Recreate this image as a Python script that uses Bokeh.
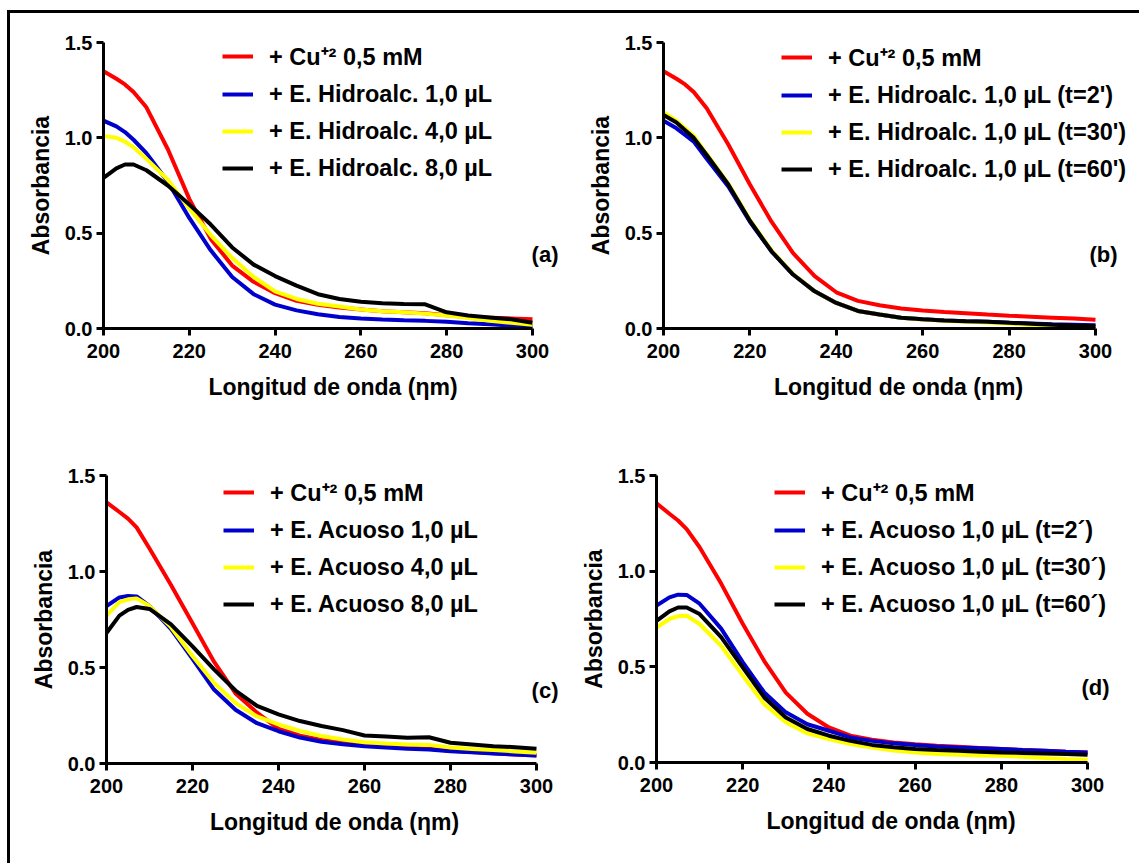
from bokeh.plotting import figure
from bokeh.layouts import column, row
from bokeh.models import Legend, LegendItem, Label, FixedTicker, PrintfTickFormatter, Range1d
from bokeh.embed import file_html
from bokeh.resources import INLINE

# ---------------- data ----------------
wavelength = [200, 203, 205, 207, 210, 215, 220, 225, 230, 235, 240, 245, 250,
              255, 260, 265, 270, 275, 280, 285, 290, 295, 300]

# panel (a)
a_cu = [1.35, 1.31, 1.28, 1.24, 1.16, 0.94, 0.68, 0.47, 0.33, 0.245, 0.185, 0.145, 0.125,
        0.11, 0.10, 0.09, 0.085, 0.08, 0.07, 0.06, 0.057, 0.053, 0.048]
a_h1 = [1.09, 1.06, 1.03, 0.99, 0.92, 0.77, 0.58, 0.41, 0.27, 0.18, 0.125, 0.095, 0.075,
        0.06, 0.052, 0.047, 0.043, 0.04, 0.035, 0.028, 0.022, 0.015, 0.01]
a_h4 = [1.01, 1.0, 0.98, 0.95, 0.89, 0.78, 0.63, 0.49, 0.37, 0.27, 0.195, 0.155, 0.13,
        0.115, 0.10, 0.09, 0.085, 0.078, 0.068, 0.055, 0.04, 0.03, 0.02]
a_h8 = [0.79, 0.84, 0.86, 0.86, 0.83, 0.75, 0.65, 0.545, 0.425, 0.335, 0.275, 0.225, 0.18,
        0.155, 0.14, 0.132, 0.128, 0.127, 0.085, 0.068, 0.058, 0.048, 0.03]

# panel (b)
b_cu = [1.35, 1.31, 1.28, 1.24, 1.155, 0.965, 0.755, 0.56, 0.395, 0.275, 0.19, 0.145, 0.122,
        0.105, 0.095, 0.087, 0.08, 0.073, 0.067, 0.062, 0.057, 0.052, 0.046]
b_t2 = [1.09, 1.05, 1.015, 0.98, 0.89, 0.745, 0.56, 0.405, 0.283, 0.195, 0.134, 0.092, 0.073,
        0.056, 0.048, 0.042, 0.038, 0.035, 0.03, 0.026, 0.022, 0.02, 0.017]
b_t30 = [1.135, 1.09, 1.05, 1.01, 0.915, 0.76, 0.57, 0.41, 0.285, 0.195, 0.134, 0.092, 0.073,
         0.056, 0.047, 0.04, 0.036, 0.032, 0.026, 0.018, 0.012, 0.006, 0.0]
b_t60 = [1.12, 1.08, 1.04, 1.0, 0.91, 0.755, 0.565, 0.405, 0.283, 0.195, 0.134, 0.092, 0.073,
         0.056, 0.048, 0.042, 0.038, 0.035, 0.03, 0.025, 0.02, 0.016, 0.012]

# panel (c)
c_cu = [1.36, 1.31, 1.275, 1.23, 1.12, 0.93, 0.73, 0.53, 0.365, 0.265, 0.18, 0.145, 0.122,
        0.108, 0.098, 0.09, 0.083, 0.077, 0.066, 0.06, 0.053, 0.047, 0.042]
c_a1 = [0.82, 0.865, 0.873, 0.87, 0.82, 0.70, 0.545, 0.385, 0.28, 0.21, 0.168, 0.135, 0.113,
        0.1, 0.09, 0.083, 0.077, 0.073, 0.064, 0.058, 0.052, 0.047, 0.042]
c_a4 = [0.77, 0.84, 0.855, 0.86, 0.82, 0.71, 0.56, 0.42, 0.315, 0.245, 0.204, 0.17, 0.143,
        0.125, 0.111, 0.104, 0.099, 0.097, 0.083, 0.076, 0.07, 0.063, 0.056]
c_a8 = [0.68, 0.77, 0.80, 0.815, 0.805, 0.725, 0.61, 0.49, 0.38, 0.30, 0.256, 0.221, 0.195,
        0.174, 0.146, 0.14, 0.134, 0.137, 0.108, 0.099, 0.09, 0.085, 0.077]

# panel (d)
d_cu = [1.355, 1.30, 1.265, 1.22, 1.125, 0.935, 0.725, 0.53, 0.365, 0.255, 0.183, 0.14, 0.119,
        0.105, 0.096, 0.088, 0.082, 0.076, 0.07, 0.065, 0.061, 0.056, 0.052]
d_t2 = [0.82, 0.863, 0.877, 0.876, 0.83, 0.70, 0.525, 0.366, 0.262, 0.20, 0.166, 0.131, 0.113,
        0.1, 0.092, 0.084, 0.078, 0.074, 0.07, 0.065, 0.061, 0.056, 0.052]
d_t30 = [0.705, 0.75, 0.765, 0.767, 0.724, 0.61, 0.455, 0.305, 0.21, 0.152, 0.122, 0.096, 0.078,
         0.063, 0.052, 0.045, 0.04, 0.037, 0.035, 0.03, 0.023, 0.018, 0.014]
d_t60 = [0.74, 0.79, 0.81, 0.81, 0.776, 0.655, 0.497, 0.34, 0.235, 0.175, 0.14, 0.113, 0.092,
         0.08, 0.07, 0.065, 0.061, 0.056, 0.052, 0.05, 0.047, 0.044, 0.04]

x_ticks = [200, 220, 240, 260, 280, 300]
y_ticks = [0.0, 0.5, 1.0, 1.5]

labels_a = ["+ Cu\u207a\u00b2 0,5 mM", "+ E. Hidroalc. 1,0 \u00b5L",
            "+ E. Hidroalc. 4,0 \u00b5L", "+ E. Hidroalc. 8,0 \u00b5L"]
labels_b = ["+ Cu\u207a\u00b2 0,5 mM", "+ E. Hidroalc. 1,0 \u00b5L (t=2')",
            "+ E. Hidroalc. 1,0 \u00b5L (t=30')", "+ E. Hidroalc. 1,0 \u00b5L (t=60')"]
labels_c = ["+ Cu\u207a\u00b2 0,5 mM", "+ E. Acuoso 1,0 \u00b5L",
            "+ E. Acuoso 4,0 \u00b5L", "+ E. Acuoso 8,0 \u00b5L"]
labels_d = ["+ Cu\u207a\u00b2 0,5 mM", "+ E. Acuoso 1,0 \u00b5L (t=2\u00b4)",
            "+ E. Acuoso 1,0 \u00b5L (t=30\u00b4)", "+ E. Acuoso 1,0 \u00b5L (t=60\u00b4)"]

x_title = "Longitud de onda (\u03b7m)"
y_title = "Absorbancia"

# ---------------- style ----------------
COLORS = ["#FF0000", "#0000CC", "#FFFF00", "#000000"]
FONT = "Liberation Sans"


def make_panel(series, labels, letter, geo):
    p = figure(frame_width=geo["fw"], frame_height=geo["fh"],
               min_border_left=geo["l"], min_border_right=geo["r"],
               min_border_top=geo["t"], min_border_bottom=geo["b"],
               x_range=Range1d(200, geo["xmax"]), y_range=Range1d(0, 1.5),
               output_backend="svg", toolbar_location=None)
    p.outline_line_color = None
    p.xgrid.visible = False
    p.ygrid.visible = False
    p.background_fill_color = "white"
    p.border_fill_color = "white"

    items = []
    for ys, col, lab in zip(series, COLORS, labels):
        r = p.line(wavelength, ys, line_color=col, line_width=4)
        items.append(LegendItem(label=lab, renderers=[r]))

    for ax in (p.xaxis[0], p.yaxis[0]):
        ax.axis_line_width = 3
        ax.axis_line_color = "black"
        ax.major_tick_line_width = 3
        ax.major_tick_in = 0
        ax.major_tick_out = 7
        ax.minor_tick_line_color = None
        ax.major_label_text_font = FONT
        ax.major_label_text_font_style = "bold"
        ax.major_label_text_font_size = "20px"
        ax.major_label_text_color = "black"
        ax.axis_label_text_font = FONT
        ax.axis_label_text_font_style = "bold"
        ax.axis_label_text_font_size = "23px"
        ax.axis_label_text_color = "black"

    p.xaxis.bounds = (200, 300)
    p.xaxis.ticker = FixedTicker(ticks=x_ticks)
    p.yaxis.ticker = FixedTicker(ticks=y_ticks)
    p.yaxis.formatter = PrintfTickFormatter(format="%.1f")
    p.xaxis.axis_label = x_title
    p.yaxis.axis_label = y_title
    p.xaxis.major_label_standoff = 8
    p.xaxis.axis_label_standoff = 13
    p.yaxis.major_label_standoff = 4
    p.yaxis.axis_label_standoff = 8

    legend = Legend(items=items, location=(geo["lx"], geo["ly"]),
                    orientation="vertical",
                    label_text_font=FONT, label_text_font_style="bold",
                    label_text_font_size="23.5px", label_text_color="black",
                    glyph_width=31, glyph_height=30, label_height=30,
                    label_standoff=16, spacing=7, padding=0, margin=0,
                    border_line_color=None, background_fill_alpha=0)
    p.add_layout(legend)

    p.add_layout(Label(x=300, y=geo["ty"], x_offset=geo["tx"], text=letter,
                       text_align="right", text_baseline="middle",
                       text_font=FONT, text_font_style="bold",
                       text_font_size="22px", text_color="black"))
    return p


geo_a = dict(fw=459, xmax=307.0, fh=286, l=93, r=8, t=29, b=113, lx=119, ly=145, tx=26, ty=0.39)
geo_b = dict(fw=470, xmax=308.8, fh=286, l=93, r=0, t=28, b=114, lx=118, ly=144, tx=22, ty=0.39)
geo_c = dict(fw=456, xmax=306.05, fh=288, l=96, r=8, t=32, b=90, lx=117, ly=144, tx=22, ty=0.38)
geo_d = dict(fw=469, xmax=308.8, fh=287, l=86, r=0, t=34, b=89, lx=118, ly=143, tx=22, ty=0.39)

pa = make_panel([a_cu, a_h1, a_h4, a_h8], labels_a, "(a)", geo_a)
pb = make_panel([b_cu, b_t2, b_t30, b_t60], labels_b, "(b)", geo_b)
pc = make_panel([c_cu, c_a1, c_a4, c_a8], labels_c, "(c)", geo_c)
pd = make_panel([d_cu, d_t2, d_t30, d_t60], labels_d, "(d)", geo_d)

layout = column(row(pa, pb), row(pc, pd),
                styles={"border-left": "3px solid black", "border-top": "3px solid black",
                        "margin-left": "7px", "margin-top": "10px",
                        "padding-right": "6px", "padding-bottom": "12px"})

open("out.html", "w").write(file_html(layout, INLINE))
